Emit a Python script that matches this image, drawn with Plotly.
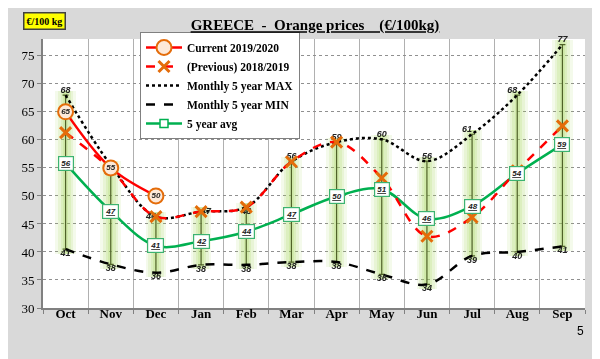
import plotly.graph_objects as go

months = ["Oct", "Nov", "Dec", "Jan", "Feb", "Mar", "Apr", "May", "Jun", "Jul", "Aug", "Sep"]
current = [65, 55, 50]
previous = [61.3, 54.8, 46.3, 47.2, 48, 56.1, 59.6, 53.2, 42.8, 46.2, 54.5, 62.5]
max5 = [68, 55.5, 46.3, 47.2, 48, 56.1, 59.6, 60.1, 56.2, 61, 68, 77]
min5 = [40.5, 37.8, 36.3, 37.7, 37.7, 38.2, 38.2, 36, 34.2, 39.3, 40, 41]
avg5 = [55.8, 47.3, 41.1, 41.9, 43.6, 46.7, 49.9, 51.2, 45.9, 48.2, 54, 59.2]

max_lbl = ["68", "", "46", "47", "48", "56", "59", "60", "56", "61", "68", "77"]
max_pos = ["top center", "top center", "middle left", "middle right", "bottom center",
           "top center", "top center", "top center", "top center", "top left", "top left", "top center"]
min_lbl = ["41", "38", "36", "38", "38", "38", "38", "36", "34", "39", "40", "41"]
avg_lbl = ["56", "47", "41", "42", "44", "47", "50", "51", "46", "48", "54", "59"]
cur_lbl = ["65", "55", "50"]

serif = "Liberation Serif"
sans = "Liberation Sans"

fig = go.Figure()

rng = [mx - mn for mx, mn in zip(max5, min5)]
# glow bars
for w, op in [(0.46, 0.12), (0.34, 0.15), (0.22, 0.18), (0.12, 0.2)]:
    fig.add_trace(go.Bar(x=months, y=[r + 1.6 for r in rng], base=[m - 0.8 for m in min5],
                         width=w, marker=dict(color="#a5d45a", line=dict(width=0)),
                         opacity=op, showlegend=False, hoverinfo="skip"))
# olive range line
fig.add_trace(go.Scatter(x=months, y=min5, mode="markers", marker=dict(size=1, color="#4f6228"),
                         error_y=dict(type="data", symmetric=False, array=rng,
                                      arrayminus=[0] * len(rng), color="#4f6228",
                                      thickness=1.2, width=3),
                         showlegend=False, hoverinfo="skip"))

fig.add_trace(go.Scatter(x=months, y=min5, mode="lines+text", name="<b>Monthly 5 year MIN</b>",
                         line=dict(color="black", width=2.5, dash="dash", shape="spline"),
                         text=min_lbl, textposition="bottom center",
                         textfont=dict(family=sans, size=9, color="#222"),
                         texttemplate="<b><i>%{text}</i></b>", legendrank=4, cliponaxis=False))
fig.add_trace(go.Scatter(x=months, y=max5, mode="lines+text", name="<b>Monthly 5 year MAX</b>",
                         line=dict(color="black", width=2.5, dash="dot", shape="spline"),
                         text=max_lbl, textposition=max_pos,
                         textfont=dict(family=sans, size=9, color="#222"),
                         texttemplate="<b><i>%{text}</i></b>", legendrank=3, cliponaxis=False))
fig.add_trace(go.Scatter(x=months, y=avg5, mode="lines+markers", name="<b>5 year avg</b>",
                         line=dict(color="#00b050", width=2.5, shape="spline"),
                         marker=dict(symbol="square", size=8, color="white",
                                     line=dict(color="#00b050", width=1.5)),
                         legendrank=5))
fig.add_trace(go.Scatter(x=months, y=previous, mode="lines+markers", name="<b>(Previous) 2018/2019</b>",
                         line=dict(color="#ff0000", width=2.5, dash="dash", shape="spline"),
                         marker=dict(symbol="x-thin", size=11, color="#e46c0a",
                                     line=dict(color="#e46c0a", width=3)),
                         legendrank=2))
fig.add_trace(go.Scatter(x=months[:len(current)], y=current, mode="lines+markers+text",
                         name="<b>Current 2019/2020</b>",
                         line=dict(color="#ff0000", width=2.5, shape="spline"),
                         marker=dict(symbol="circle", size=15, color="#fde9d9",
                                     line=dict(color="#e46c0a", width=2)),
                         text=cur_lbl, textposition="middle center",
                         textfont=dict(family=sans, size=8, color="#222"),
                         texttemplate="<b><i>%{text}</i></b>", legendrank=1))

annotations = []
for m, v, t in zip(months, avg5, avg_lbl):
    annotations.append(dict(x=m, y=v, text="<b><i><u>%s</u></i></b>" % t, showarrow=False,
                            font=dict(family=sans, size=8, color="#222"),
                            bgcolor="white", bordercolor="#3cb371", borderwidth=1.2,
                            borderpad=2, xref="x", yref="y"))
annotations.append(dict(x=(36.5 - 35) / 542, y=(300 - 12.5) / 269, xref="paper", yref="paper",
                        xanchor="center", yanchor="middle", text="<b>€/100 kg</b>",
                        showarrow=False, font=dict(family=serif, size=10, color="black"),
                        bgcolor="#ffff00", bordercolor="#404040", borderwidth=1.5, borderpad=2))
annotations.append(dict(x=(572 - 35) / 542, y=(300 - 323) / 269, xref="paper", yref="paper",
                        xanchor="center", yanchor="middle", text="5",
                        showarrow=False, font=dict(family=sans, size=12, color="black")))

fig.update_layout(
    width=600, height=359,
    margin=dict(l=35, r=23, t=31, b=59),
    paper_bgcolor="#d9d9d9", plot_bgcolor="white",
    barmode="overlay", bargap=0,
    title=dict(text="<b><u>GREECE  -  Orange prices    (€/100kg)</u></b>",
               x=307 / 600, xanchor="center", y=1 - 17 / 359, yanchor="middle",
               font=dict(family=serif, size=15, color="black")),
    legend=dict(x=(132 - 35) / 542, y=(300 - 24) / 269, xanchor="left", yanchor="top",
                bgcolor="white", bordercolor="#808080", borderwidth=1,
                font=dict(family=serif, size=11.5, color="black"),
                tracegroupgap=0, itemwidth=36),
    annotations=annotations,
    showlegend=True,
)
fig.update_xaxes(type="category", range=[-0.5, 11.5], tickson="boundaries", ticks="outside",
                 ticklen=4, tickcolor="#808080", showgrid=True, gridcolor="#b0b0b0", gridwidth=1,
                 showline=True, linecolor="#808080", linewidth=2, ticklabelstandoff=-8,
                 tickfont=dict(family=serif, size=13, color="black"),
                 tickprefix="<b>", ticksuffix="</b>")
fig.update_yaxes(range=[30, 78], tickvals=[30, 35, 40, 45, 50, 55, 60, 65, 70, 75],
                 ticks="outside", ticklen=4, tickcolor="#808080",
                 showgrid=True, gridcolor="#909090", griddash="dot", gridwidth=1,
                 showline=True, linecolor="#808080", linewidth=2, zeroline=False,
                 tickfont=dict(family=serif, size=13, color="black"),
                 tickprefix="<b>", ticksuffix="</b>")

fig.write_html("out.html")
